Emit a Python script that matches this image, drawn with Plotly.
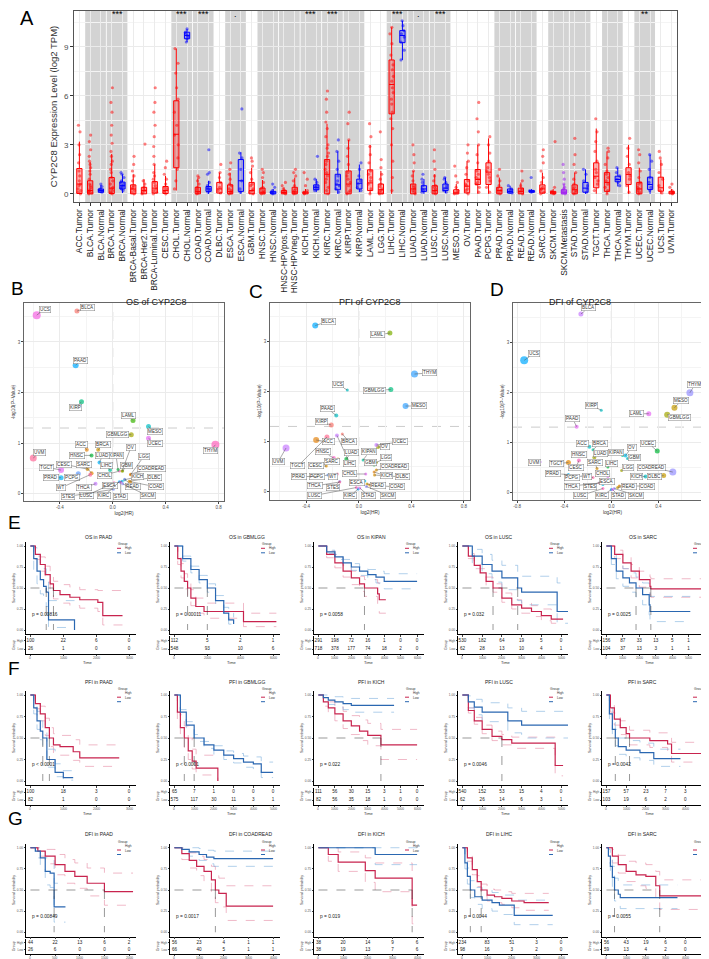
import plotly.graph_objects as go

W, H = 709, 959
FONT = "Liberation Sans, Arial, sans-serif"

# ---------------- panel A: CYP2C8 expression across TCGA ----------------
cats = ["ACC.Tumor", "BLCA.Tumor", "BLCA.Normal", "BRCA.Tumor", "BRCA.Normal",
        "BRCA-Basal.Tumor", "BRCA-Her2.Tumor", "BRCA-Luminal.Tumor", "CESC.Tumor",
        "CHOL.Tumor", "CHOL.Normal", "COAD.Tumor", "COAD.Normal", "DLBC.Tumor",
        "ESCA.Tumor", "ESCA.Normal", "GBM.Tumor", "HNSC.Tumor", "HNSC.Normal",
        "HNSC-HPVpos.Tumor", "HNSC-HPVneg.Tumor", "KICH.Tumor", "KICH.Normal",
        "KIRC.Tumor", "KIRC.Normal", "KIRP.Tumor", "KIRP.Normal", "LAML.Tumor",
        "LGG.Tumor", "LIHC.Tumor", "LIHC.Normal", "LUAD.Tumor", "LUAD.Normal",
        "LUSC.Tumor", "LUSC.Normal", "MESO.Tumor", "OV.Tumor", "PAAD.Tumor",
        "PCPG.Tumor", "PRAD.Tumor", "PRAD.Normal", "READ.Tumor", "READ.Normal",
        "SARC.Tumor", "SKCM.Tumor", "SKCM.Metastasis", "STAD.Tumor", "STAD.Normal",
        "TGCT.Tumor", "THCA.Tumor", "THCA.Normal", "THYM.Tumor", "UCEC.Tumor",
        "UCEC.Normal", "UCS.Tumor", "UVM.Tumor"]
box_q1 = [0.02, 0.0, 0.1, 0.02, 0.3, 0.0, 0.0, 0.05, 0.02, 1.6, 9.5, 0.0, 0.15, 0.05,
          0.0, 0.15, 0.0, 0.0, 0.0, 0.0, 0.0, 0.0, 0.25, 0.0, 0.25, 0.0, 0.3, 0.2,
          0.0, 4.9, 9.26, 0.0, 0.15, 0.0, 0.2, 0.0, 0.06, 0.57, 0.57, 0.0, 0.05, 0.0,
          0.1, 0.05, 0.0, 0.0, 0.0, 0.1, 0.37, 0.15, 0.74, 0.57, 0.0, 0.27, 0.16, 0.0]
box_med = [0.6, 0.2, 0.2, 0.35, 0.5, 0.3, 0.2, 0.35, 0.2, 3.65, 9.7, 0.15, 0.3, 0.3,
           0.15, 0.8, 0.2, 0.1, 0.05, 0.08, 0.12, 0.05, 0.4, 1.2, 0.55, 0.6, 0.65, 0.67,
           0.25, 6.7, 9.7, 0.3, 0.3, 0.2, 0.35, 0.1, 0.47, 0.88, 1.33, 0.2, 0.15, 0.15,
           0.15, 0.3, 0.05, 0.1, 0.25, 0.35, 1.08, 0.7, 0.88, 1.19, 0.3, 0.57, 0.37, 0.05]
box_q3 = [1.55, 0.8, 0.3, 1.0, 0.72, 0.55, 0.4, 0.75, 0.45, 5.7, 9.9, 0.4, 0.45, 0.7,
          0.55, 2.1, 0.7, 0.35, 0.15, 0.2, 0.4, 0.12, 0.55, 2.1, 1.2, 1.4, 0.9, 1.47,
          0.6, 8.2, 10.0, 0.6, 0.5, 0.5, 0.6, 0.25, 0.88, 1.49, 1.9, 0.4, 0.3, 0.35,
          0.2, 0.55, 0.15, 0.25, 0.55, 0.7, 1.9, 1.3, 1.08, 1.6, 0.7, 1.02, 1.02, 0.15]
box_lo = [0, 0, 0.05, 0, 0.05, 0, 0, 0, 0, 0.2, 9.3, 0, 0, 0, 0, 0, 0, 0, 0, 0, 0, 0,
          0.1, 0, 0, 0, 0.1, 0, 0, 0, 8.2, 0, 0, 0, 0.05, 0, 0, 0, 0, 0, 0, 0, 0.05, 0,
          0, 0, 0, 0, 0, 0, 0.45, 0, 0, 0, 0, 0]
box_hi = [3.2, 1.95, 0.55, 2.45, 1.2, 1.2, 0.9, 1.8, 1.1, 8.9, 10.1, 0.95, 0.8, 1.3,
          1.3, 2.55, 1.6, 0.85, 0.3, 0.4, 1.0, 0.3, 0.9, 4.3, 2.6, 3.3, 1.8, 3.0, 1.4,
          10.2, 10.6, 1.4, 0.9, 1.2, 1.0, 0.6, 2.0, 3.0, 3.4, 1.0, 0.5, 0.7, 0.3, 1.3,
          0.3, 0.6, 1.3, 1.5, 4.0, 2.6, 1.6, 3.0, 1.6, 2.4, 2.1, 0.3]
box_pts = [
    [0.0, 0.1, 0.2, 0.3, 0.5, 0.6, 0.8, 1.1, 1.4, 1.9, 2.4, 3.0, 3.8, 4.2],
    [0.0, 0.05, 0.1, 0.15, 0.2, 0.3, 0.4, 0.5, 0.6, 0.9, 1.2, 1.4, 1.6, 1.8, 2.0, 2.3, 2.7, 3.2, 3.6],
    [0.1, 0.15, 0.2, 0.25, 0.3, 0.45, 0.6],
    [0.0, 0.05, 0.1, 0.2, 0.3, 0.4, 0.6, 0.8, 1.0, 1.3, 1.5, 1.8, 2.0, 2.3, 2.6, 3.1, 3.6, 4.2, 5.0, 5.6, 6.5],
    [0.2, 0.3, 0.35, 0.45, 0.5, 0.6, 0.7, 0.8, 1.0, 1.2, 1.3],
    [0.0, 0.1, 0.2, 0.3, 0.4, 0.5, 0.8, 1.1, 1.4, 1.8, 2.3],
    [0.0, 0.1, 0.2, 0.3, 0.4, 0.6, 0.8, 3.05],
    [0.0, 0.1, 0.2, 0.3, 0.5, 0.7, 0.9, 1.1, 1.3, 1.8, 2.3, 2.9, 3.5, 4.2, 5.0, 5.6, 6.5],
    [0.0, 0.1, 0.2, 0.3, 0.4, 0.6, 0.9, 1.2, 1.6, 2.0],
    [0.3, 0.8, 1.5, 2.2, 3.0, 3.6, 4.2, 5.0, 5.8, 6.5, 7.4, 8.0, 8.9],
    [9.3, 9.5, 9.6, 9.7, 9.8, 9.9, 10.1],
    [0.0, 0.05, 0.1, 0.2, 0.3, 0.4, 0.6, 0.8, 1.0, 1.1],
    [0.1, 0.2, 0.3, 0.4, 0.5, 0.7, 1.2, 1.3, 2.7],
    [0.05, 0.2, 0.4, 0.7, 1.0, 1.3, 1.8],
    [0.0, 0.05, 0.1, 0.2, 0.3, 0.5, 0.6, 0.9, 1.2, 1.5, 1.9],
    [0.1, 0.3, 0.8, 1.5, 2.2, 2.5, 5.2],
    [0.0, 0.1, 0.2, 0.3, 0.5, 0.6, 0.9, 1.3, 1.7, 2.0, 2.2],
    [0.0, 0.05, 0.1, 0.2, 0.3, 0.4, 0.7, 1.0, 1.3, 1.5],
    [0.0, 0.05, 0.1, 0.2, 0.4, 0.6],
    [0.0, 0.05, 0.1, 0.2, 0.3, 0.5, 0.7],
    [0.0, 0.05, 0.1, 0.2, 0.3, 0.5, 0.8, 1.1, 1.3, 1.5],
    [0.0, 0.05, 0.1, 0.2, 0.5, 0.9, 1.3],
    [0.2, 0.3, 0.4, 0.5, 0.7, 0.9, 2.3],
    [0.0, 0.2, 0.4, 0.7, 0.9, 1.1, 1.3, 1.5, 1.8, 2.0, 2.3, 2.5, 2.8, 3.0, 3.5, 4.0, 4.4, 5.0, 5.8, 6.3],
    [0.1, 0.3, 0.5, 0.6, 0.8, 1.1, 1.5, 2.0, 2.6, 3.3],
    [0.0, 0.1, 0.2, 0.5, 0.7, 0.9, 1.1, 1.3, 1.8, 2.3, 2.8, 3.3, 4.3, 5.0],
    [0.2, 0.4, 0.6, 0.8, 1.1, 1.5, 1.9],
    [0.0, 0.3, 0.6, 0.8, 1.0, 1.2, 1.4, 1.9, 2.4, 2.9, 3.5, 4.3],
    [0.0, 0.05, 0.1, 0.2, 0.3, 0.45, 0.6, 0.9, 1.2, 1.6, 2.1, 3.8],
    [0.2, 1.0, 2.0, 3.0, 4.0, 4.6, 5.0, 5.5, 5.8, 6.2, 6.5, 6.9, 7.2, 7.6, 7.9, 8.5, 9.2, 9.8, 10.2],
    [8.2, 8.8, 9.3, 9.6, 9.8, 10.0, 10.3, 10.6],
    [0.0, 0.1, 0.2, 0.3, 0.4, 0.5, 0.8, 1.1, 1.4, 1.9, 2.4, 3.0],
    [0.1, 0.2, 0.3, 0.5, 0.7, 0.9, 1.2],
    [0.0, 0.1, 0.2, 0.3, 0.4, 0.5, 0.8, 1.1, 1.5, 2.0, 2.7],
    [0.1, 0.2, 0.35, 0.5, 0.7, 0.9, 1.0],
    [0.0, 0.05, 0.2, 0.4, 0.7, 1.1, 1.7],
    [0.0, 0.2, 0.3, 0.5, 0.6, 0.8, 1.2, 1.6, 2.0, 2.5, 3.0],
    [0.1, 0.4, 0.6, 0.7, 0.9, 1.0, 1.2, 1.4, 1.9, 2.4, 3.0, 3.8, 4.6, 5.6],
    [0.1, 0.4, 0.8, 1.0, 1.2, 1.4, 1.6, 2.0, 2.5, 3.0, 3.5],
    [0.0, 0.1, 0.2, 0.3, 0.5, 0.8, 1.1, 1.5],
    [0.05, 0.1, 0.2, 0.3, 0.5],
    [0.0, 0.1, 0.2, 0.3, 0.5, 0.8, 1.4],
    [0.1, 0.15, 0.2, 1.0],
    [0.0, 0.1, 0.2, 0.3, 0.4, 0.7, 1.0, 1.4, 1.9, 2.3, 2.7],
    [0.0, 0.05, 0.1, 0.15, 0.4, 3.2],
    [0.0, 0.05, 0.1, 0.2, 0.3, 0.4, 0.6, 0.9, 1.3, 1.8],
    [0.0, 0.1, 0.2, 0.3, 0.4, 0.6, 0.9, 1.3, 1.8, 2.4, 3.4],
    [0.1, 0.3, 0.5, 0.8, 1.2, 1.5],
    [0.2, 0.6, 0.8, 1.0, 1.3, 1.5, 2.0, 2.6, 3.2, 3.8, 4.6],
    [0.0, 0.2, 0.4, 0.6, 0.8, 1.0, 1.2, 1.4, 1.8, 2.2, 2.6, 2.8],
    [0.5, 0.7, 0.9, 1.1, 1.3, 1.6],
    [0.1, 0.5, 0.9, 1.1, 1.3, 1.8, 2.3, 2.8, 3.4],
    [0.0, 0.1, 0.2, 0.3, 0.4, 0.6, 0.7, 1.0, 1.4, 1.9, 2.4, 2.7],
    [0.2, 0.4, 0.7, 1.0, 1.5, 2.0, 2.4],
    [0.05, 0.2, 0.5, 0.9, 1.3, 1.8, 2.2, 2.6],
    [0.0, 0.05, 0.1, 0.2, 0.4, 0.6],
]
pair_start = [1, 3, 9, 11, 14, 17, 19, 21, 23, 25, 29, 31, 33, 39, 41, 44, 46, 49, 52]
sig_start = [3, 9, 11, 14, 21, 23, 29, 31, 33, 52]
sig_text = ["***", "***", "***", ".", "***", "***", "***", ".", "***", "**"]

# ---------------- panels B-D: Cox results per cancer ----------------
vol_names = ["ACC", "BLCA", "BRCA", "CESC", "CHOL", "COAD", "COADREAD", "DLBC", "ESCA",
             "GBM", "GBMLGG", "HNSC", "KICH", "KIPAN", "KIRC", "KIRP", "LAML", "LGG",
             "LIHC", "LUAD", "LUSC", "MESO", "OV", "PAAD", "PCPG", "PRAD", "READ",
             "SARC", "SKCM", "STAD", "STES", "TGCT", "THCA", "THYM", "UCEC", "UCS",
             "UVM", "WT"]
os_hr = [-0.196, -0.27, -0.11, -0.19, 0.05, 0.135, 0.135, 0.125, 0.07, 0.075, 0.14,
         -0.16, 0.09, 0.04, 0.05, -0.236, 0.153, 0.135, -0.02, -0.1, 0.01, 0.27, 0.07,
         -0.28, -0.26, -0.39, 0.09, -0.16, 0.075, 0.06, 0.005, -0.39, -0.13, 0.775,
         0.27, -0.574, -0.60, -0.17]
os_p = [0.87, 3.61, 0.87, 0.49, 0.45, 0.24, 0.39, 0.25, 0.25, 0.45, 1.17, 0.76, 0.28,
        0.48, 0.24, 1.82, 1.45, 0.38, 0.47, 0.62, 0.22, 1.33, 0.45, 2.54, 0.40, 0.32,
        0.29, 0.41, 0.2, 0.23, 0.09, 0.47, 0.2, 0.97, 1.10, 3.53, 0.71, 0.38]
os_col = ["#E68613", "#F8766D", "#CD9600", "#D89000", "#FF61C9", "#E58700", "#E68613",
          "#D89000", "#00B8E7", "#7CAE00", "#A3A500", "#00BA38", "#00C08B", "#00BA38",
          "#00A5FF", "#00BF7D", "#39B600", "#E68613", "#00C19A", "#00B0F6", "#FF62BC",
          "#00BFC4", "#9DA700", "#00A9FF", "#619CFF", "#00B0F6", "#9590FF", "#E58700",
          "#9590FF", "#E76BF3", "#8494FF", "#E76BF3", "#C77CFF", "#FF62BC", "#E76BF3",
          "#F564E3", "#FF6A98", "#FF67A4"]
os_size = [4, 5, 4, 4, 3, 3, 3, 3, 3, 3, 5, 4, 3, 3, 3, 5, 5, 3, 4, 4, 3, 5, 3, 6, 5,
           5, 3, 4, 3, 3, 3, 6, 4, 8, 5, 8, 7, 4]
pfi_hr = [-0.324, -0.331, -0.125, -0.247, 0.053, 0.084, 0.134, 0.12, 0.046, 0.117,
          0.244, -0.19, 0.117, 0.033, -0.005, -0.209, 0.237, 0.134, -0.166, -0.095,
          -0.018, 0.356, 0.147, -0.171, -0.234, -0.31, 0.063, -0.158, 0.058, 0.008,
          -0.145, -0.242, -0.145, 0.424, 0.134, -0.087, -0.553, -0.163]
pfi_p = [1.03, 3.32, 1.15, 0.51, 0.35, 0.13, 0.43, 0.33, 0.21, 0.53, 2.04, 0.67, 0.39,
         0.63, 0.05, 1.33, 3.17, 0.58, 1.12, 0.65, 0.08, 1.71, 0.89, 1.52, 0.33, 0.3,
         0.15, 0.65, 0.10, 0.07, 0.2, 1.09, 0.19, 2.35, 0.93, 2.03, 0.87, 0.35]
pfi_col = ["#E68613", "#00A9FF", "#F8766D", "#D89000", "#E76BF3", "#E58700", "#D89000",
           "#D89000", "#00B8E7", "#00BA38", "#00BF7D", "#FF61C9", "#E68613", "#00C19A",
           "#00A5FF", "#F8766D", "#7CAE00", "#A3A500", "#C77CFF", "#00BA38", "#FF62BC",
           "#35A2FF", "#A3A500", "#00BFC4", "#619CFF", "#00B0F6", "#C99800", "#E58700",
           "#9590FF", "#E76BF3", "#8494FF", "#FF6C91", "#FF6A98", "#35A2FF", "#C77CFF",
           "#00BFC4", "#C77CFF", "#FF67A4"]
pfi_size = [6, 6, 3, 3, 3, 3, 3, 3, 3, 3, 5, 4, 3, 3, 3, 5, 5, 3, 4, 4, 3, 6, 4, 4, 3,
            3, 3, 3, 3, 3, 3, 5, 3, 7, 4, 3, 7, 3]
dfi_hr = [-0.187, -0.259, -0.156, -0.276, -0.03, 0.067, 0.522, 0.444, -0.072, 0.137,
          0.474, -0.245, 0.29, 0.095, 0.0, -0.086, 0.318, 0.087, -0.03, -0.145, -0.072,
          0.536, 0.12, -0.295, -0.24, -0.365, 0.053, -0.122, 0.025, 0.01, -0.095,
          -0.365, -0.1, 0.667, 0.39, -0.741, -0.60, -0.156]
dfi_p = [0.91, 3.57, 0.85, 0.63, 0.31, 0.12, 0.40, 0.33, 0.15, 0.67, 1.55, 0.72, 0.31,
         0.73, 0.05, 1.64, 1.57, 0.43, 0.5, 0.69, 0.07, 1.69, 0.73, 1.31, 0.32, 0.35,
         0.09, 0.47, 0.07, 0.05, 0.2, 0.59, 0.18, 1.99, 0.82, 2.64, 0.60, 0.29]
dfi_col = ["#00BFC4", "#C77CFF", "#00C19A", "#FF62BC", "#E76BF3", "#E58700", "#9590FF",
           "#C49A00", "#00B8E7", "#00BFC4", "#A3A500", "#FF61C9", "#00BFC4", "#00C08B",
           "#00A5FF", "#00BFC4", "#E76BF3", "#A3A500", "#00BA38", "#A3A500", "#FF62BC",
           "#C49A00", "#00B8E7", "#E76BF3", "#619CFF", "#00B0F6", "#C99800", "#D89000",
           "#9590FF", "#E76BF3", "#8494FF", "#E58700", "#FF6A98", "#9590FF", "#00BA38",
           "#00A9FF", "#C77CFF", "#FF67A4"]
dfi_size = [4, 5, 3, 4, 3, 3, 7, 5, 3, 3, 6, 3, 4, 3, 3, 3, 5, 3, 3, 4, 3, 6, 4, 4, 3,
            3, 3, 3, 3, 3, 3, 5, 3, 7, 5, 8, 2, 3]

# label placement (pixel offset of each repel label from its point)
os_lab = [(-5, -5), (11, -4), (5, -5), (-24, -5), (-15, 4), (25, 5), (21, -6), (25, -4),
          (-12, 4), (4, -6), (-14, 0), (-15, 0), (13, -3), (-2, -14), (-15, 14), (-6, 6),
          (-5, -5), (13, -18), (-4, -5), (3, -7), (-28, 13), (6, 5), (9, -24), (5, -5),
          (-6, 4), (-10, 0), (8, 7), (-8, -9), (25, 12), (0, 14), (-45, 7), (-15, -3),
          (-12, 4), (-5, 6), (6, 5), (8, -6), (6, -5), (-29, 13)]
pfi_lab = [(12, 2), (13, -4), (7, 8), (-10, 0), (-16, 0), (27, 2), (18, -3), (28, 2),
           (-8, 2), (-4, -2), (-16, 1), (-11, -6), (12, 4), (6, -8), (-8, 7), (-10, -3),
           (-12, 2), (10, -5), (13, 28), (5, -6), (-42, 8), (13, 0), (7, 0), (-9, -7),
           (-11, 2), (-19, 0), (11, 2), (-6, 3), (22, 9), (9, 8), (-7, 6), (-29, 29),
           (-25, 4), (15, -1), (24, -3), (-9, -5), (-8, 14), (-4, 3)]
dfi_lab = [(-7, -3), (8, -6), (7, -6), (-3, 7), (-5, -3), (28, 0), (-21, -5), (-9, 1),
           (4, -3), (7, -1), (12, 3), (-4, -2), (-9, 0), (-7, -3), (-9, 6), (-10, -5),
           (-12, 0), (6, -3), (4, -4), (6, -4), (-22, 7), (7, -7), (6, -8), (-4, -8),
           (-11, 1), (-15, -1), (11, -1), (-2, -6), (22, 7), (6, 6), (-10, 4), (-12, 1),
           (-28, 3), (5, -8), (-9, -8), (10, -7), (-6, 0), (-6, -1)]

# ---------------- panels E-G: Kaplan-Meier curves ----------------
km_titles = ["OS in PAAD", "OS in GBMLGG", "OS in KIPAN", "OS in LUSC", "OS in SARC",
             "PFI in PAAD", "PFI in GBMLGG", "PFI in KICH", "PFI in LUSC", "PFI in SARC",
             "DFI in PAAD", "DFI in COADREAD", "DFI in KICH", "DFI in LIHC", "DFI in SARC"]
km_pvals = ["p = 0.00816", "p = 0.00011", "p = 0.0058", "p = 0.032", "p = 0.0025",
            "p < 0.0001", "p < 0.0001", "p = 0.022", "p = 0.0046", "p = 0.0042",
            "p = 0.00849", "p = 0.0017", "p = 0.019", "p = 0.0044", "p = 0.0055"]
km_step = [1000, 2000, 1000, 1000, 1000, 1000, 1000, 1000, 1000, 1000,
           500, 1000, 1000, 1000, 1000]
risk_high = [[100, 22, 6, 0], [112, 5, 2, 1], [291, 198, 72, 16, 1, 0, 0],
             [530, 182, 64, 19, 5, 0], [156, 87, 33, 13, 5, 1, 0],
             [100, 18, 3, 0], [65, 7, 1, 0, 0, 0], [111, 56, 30, 15, 3, 1, 0],
             [540, 152, 53, 15, 4, 0], [157, 57, 23, 7, 3, 0],
             [44, 22, 13, 6, 2], [56, 23, 4, 1, 1], [38, 20, 14, 9, 6],
             [234, 83, 51, 3, 0], [56, 43, 19, 6, 0, 0]]
risk_low = [[26, 1, 0, 0], [548, 93, 10, 6], [718, 378, 177, 74, 18, 2, 0],
            [62, 28, 13, 10, 4, 1], [104, 37, 13, 3, 1, 1, 0],
            [82, 1, 0, 0], [575, 117, 30, 11, 3, 1], [82, 56, 35, 18, 1, 0, 0],
            [62, 26, 14, 6, 3, 1], [103, 19, 6, 2, 0, 0],
            [26, 6, 0, 0, 0], [66, 40, 5, 1, 1], [38, 19, 13, 7, 6],
            [98, 16, 3, 2, 0], [59, 13, 4, 2, 0, 0]]

high_t = [[0, 150, 300, 450, 600, 700, 900, 1200, 1500, 2050, 2200, 2800],
          [0, 200, 400, 600, 800, 1000, 1300, 1800, 4200, 6200],
          [0, 500, 1000, 1500, 2000, 2500, 2800, 3600, 3700, 4100],
          [0, 300, 600, 900, 1200, 1550, 2000, 2500, 3000, 3500, 4000, 4500, 5100],
          [0, 500, 1000, 1500, 2000, 2650, 2700, 5800],
          [0, 150, 300, 450, 576, 700, 900, 1300, 1500, 2700],
          [0, 150, 300, 500, 700, 900, 1100, 2200, 2200],
          [0, 300, 600, 1000, 1500, 2000, 2500, 3000, 3800, 6000],
          [0, 300, 600, 1000, 1500, 2000, 2500, 4700, 5100],
          [0, 200, 400, 700, 1000, 1170, 2200, 3100, 3300, 4850],
          [0, 150, 300, 500, 700, 900, 1150, 1500, 2080],
          [0, 300, 600, 900, 1200, 1500, 1660, 1800, 2100, 4000],
          [0, 400, 800, 1900, 2300, 3800, 4000],
          [0, 200, 400, 600, 760, 1000, 1300, 1600, 2000, 2500, 3500],
          [0, 300, 600, 1000, 1500, 2000, 2500, 2700, 5100]]
high_s = [[1, 0.9, 0.78, 0.66, 0.55, 0.47, 0.42, 0.39, 0.36, 0.33, 0.17, 0.17],
          [1, 0.85, 0.7, 0.58, 0.5, 0.38, 0.28, 0.22, 0.1, 0.1],
          [1, 0.9, 0.8, 0.7, 0.62, 0.55, 0.5, 0.43, 0.36, 0.36],
          [1, 0.88, 0.77, 0.68, 0.58, 0.5, 0.38, 0.3, 0.26, 0.22, 0.17, 0.13, 0.13],
          [1, 0.9, 0.8, 0.7, 0.6, 0.52, 0.49, 0.49],
          [1, 0.9, 0.78, 0.62, 0.5, 0.42, 0.4, 0.34, 0.27, 0.27],
          [1, 0.8, 0.62, 0.5, 0.35, 0.23, 0.15, 0.15, 0.0],
          [1, 0.92, 0.85, 0.78, 0.7, 0.64, 0.58, 0.53, 0.42, 0.42],
          [1, 0.82, 0.7, 0.6, 0.52, 0.48, 0.44, 0.18, 0.18],
          [1, 0.85, 0.72, 0.62, 0.55, 0.5, 0.47, 0.43, 0.32, 0.32],
          [1, 0.96, 0.9, 0.8, 0.72, 0.66, 0.58, 0.48, 0.48],
          [1, 0.93, 0.85, 0.78, 0.72, 0.62, 0.5, 0.46, 0.31, 0.31],
          [1, 0.92, 0.83, 0.73, 0.64, 0.32, 0.32],
          [1, 0.88, 0.74, 0.6, 0.5, 0.44, 0.42, 0.4, 0.37, 0.35, 0.35],
          [1, 0.9, 0.8, 0.72, 0.68, 0.66, 0.55, 0.43, 0.43]]
high_lo = [[1, 0.84, 0.7, 0.57, 0.45, 0.37, 0.32, 0.29, 0.26, 0.22, 0.06, 0.06],
           [1, 0.78, 0.62, 0.49, 0.41, 0.29, 0.2, 0.14, 0.04, 0.04],
           [1, 0.86, 0.74, 0.63, 0.54, 0.46, 0.4, 0.31, 0.2, 0.2],
           [1, 0.85, 0.73, 0.63, 0.53, 0.45, 0.33, 0.25, 0.2, 0.16, 0.11, 0.08, 0.08],
           [1, 0.85, 0.73, 0.62, 0.51, 0.42, 0.39, 0.39],
           [1, 0.84, 0.7, 0.53, 0.4, 0.32, 0.3, 0.24, 0.17, 0.17],
           [1, 0.7, 0.51, 0.39, 0.25, 0.14, 0.07, 0.07, 0.0],
           [1, 0.87, 0.78, 0.7, 0.61, 0.54, 0.47, 0.41, 0.25, 0.25],
           [1, 0.79, 0.66, 0.55, 0.47, 0.42, 0.38, 0.06, 0.06],
           [1, 0.8, 0.65, 0.54, 0.47, 0.42, 0.39, 0.34, 0.22, 0.22],
           [1, 0.9, 0.81, 0.68, 0.58, 0.52, 0.43, 0.32, 0.32],
           [1, 0.86, 0.76, 0.67, 0.6, 0.48, 0.35, 0.3, 0.14, 0.14],
           [1, 0.84, 0.72, 0.59, 0.48, 0.1, 0.1],
           [1, 0.84, 0.68, 0.54, 0.43, 0.37, 0.35, 0.33, 0.29, 0.26, 0.26],
           [1, 0.82, 0.7, 0.6, 0.55, 0.52, 0.4, 0.27, 0.27]]
high_hi = [[1, 0.96, 0.87, 0.76, 0.66, 0.58, 0.54, 0.51, 0.48, 0.47, 0.47, 0.47],
           [1, 0.91, 0.79, 0.67, 0.6, 0.48, 0.38, 0.32, 0.2, 0.2],
           [1, 0.94, 0.86, 0.77, 0.7, 0.64, 0.6, 0.56, 0.52, 0.52],
           [1, 0.91, 0.81, 0.73, 0.63, 0.55, 0.44, 0.36, 0.32, 0.29, 0.25, 0.22, 0.22],
           [1, 0.95, 0.87, 0.78, 0.7, 0.63, 0.61, 0.61],
           [1, 0.96, 0.87, 0.73, 0.62, 0.55, 0.53, 0.48, 0.42, 0.42],
           [1, 0.9, 0.75, 0.64, 0.5, 0.37, 0.3, 0.3, 0.3],
           [1, 0.97, 0.92, 0.87, 0.81, 0.76, 0.71, 0.67, 0.6, 0.6],
           [1, 0.85, 0.74, 0.65, 0.58, 0.54, 0.51, 0.5, 0.5],
           [1, 0.9, 0.79, 0.7, 0.64, 0.59, 0.56, 0.53, 0.45, 0.45],
           [1, 1, 0.98, 0.92, 0.86, 0.82, 0.76, 0.7, 0.7],
           [1, 0.99, 0.94, 0.9, 0.86, 0.78, 0.67, 0.64, 0.55, 0.55],
           [1, 1, 0.95, 0.88, 0.82, 0.68, 0.68],
           [1, 0.92, 0.8, 0.67, 0.57, 0.51, 0.5, 0.48, 0.46, 0.46, 0.46],
           [1, 0.98, 0.91, 0.84, 0.82, 0.8, 0.72, 0.62, 0.62]]
low_t = [[0, 100, 200, 300, 400, 480, 550, 1340, 1340],
         [0, 500, 1000, 1500, 2000, 2500, 3000, 3300, 3600],
         [0, 500, 1000, 1500, 2000, 2500, 3000, 3500, 4000, 6000],
         [0, 500, 1000, 1500, 2000, 2800, 3000, 4800, 5500],
         [0, 300, 600, 1000, 1400, 1800, 2200, 2600, 2650, 5100],
         [0, 100, 200, 300, 375, 500, 750, 1000, 1300],
         [0, 300, 600, 1000, 1500, 2000, 2500, 3000, 3500, 4000, 4400, 5000],
         [0, 300, 600, 1000, 1500, 2000, 4600],
         [0, 300, 600, 1000, 2300, 3000, 5500],
         [0, 150, 300, 450, 600, 1000, 1700, 2400, 3750],
         [0, 100, 200, 300, 400, 480, 710],
         [0, 300, 600, 1000, 1300, 1600, 4000],
         [0, 2300, 4000],
         [0, 100, 200, 320, 500, 800, 1200, 1500, 2100, 3660],
         [0, 100, 200, 300, 410, 600, 700, 3600]]
low_s = [[1, 0.85, 0.7, 0.6, 0.52, 0.45, 0.12, 0.12, 0.0],
         [1, 0.85, 0.72, 0.6, 0.5, 0.35, 0.2, 0.12, 0.07],
         [1, 0.93, 0.87, 0.8, 0.75, 0.7, 0.66, 0.63, 0.58, 0.58],
         [1, 0.88, 0.78, 0.7, 0.62, 0.5, 0.45, 0.22, 0.22],
         [1, 0.85, 0.7, 0.62, 0.56, 0.5, 0.42, 0.3, 0.22, 0.22],
         [1, 0.85, 0.7, 0.58, 0.5, 0.25, 0.1, 0.04, 0.04],
         [1, 0.8, 0.65, 0.5, 0.42, 0.36, 0.3, 0.26, 0.22, 0.2, 0.1, 0.1],
         [1, 0.97, 0.94, 0.92, 0.9, 0.88, 0.88],
         [1, 0.92, 0.86, 0.8, 0.7, 0.65, 0.65],
         [1, 0.78, 0.6, 0.5, 0.4, 0.36, 0.33, 0.26, 0.26],
         [1, 0.96, 0.88, 0.72, 0.7, 0.3, 0.3],
         [1, 0.98, 0.95, 0.92, 0.89, 0.87, 0.87],
         [1, 0.92, 0.92],
         [1, 0.82, 0.66, 0.5, 0.42, 0.38, 0.35, 0.32, 0.2, 0.2],
         [1, 0.9, 0.78, 0.65, 0.5, 0.45, 0.41, 0.41]]
low_lo = [[1, 0.72, 0.55, 0.43, 0.35, 0.28, 0.03, 0.03, 0.0],
          [1, 0.82, 0.68, 0.56, 0.45, 0.3, 0.15, 0.07, 0.03],
          [1, 0.91, 0.84, 0.76, 0.71, 0.65, 0.6, 0.56, 0.49, 0.49],
          [1, 0.8, 0.67, 0.57, 0.48, 0.35, 0.3, 0.08, 0.08],
          [1, 0.78, 0.61, 0.52, 0.45, 0.39, 0.3, 0.18, 0.1, 0.1],
          [1, 0.78, 0.6, 0.48, 0.4, 0.16, 0.05, 0.01, 0.01],
          [1, 0.77, 0.61, 0.46, 0.38, 0.31, 0.25, 0.21, 0.16, 0.13, 0.04, 0.04],
          [1, 0.93, 0.89, 0.86, 0.83, 0.8, 0.8],
          [1, 0.85, 0.77, 0.69, 0.56, 0.5, 0.5],
          [1, 0.7, 0.51, 0.41, 0.31, 0.27, 0.24, 0.17, 0.17],
          [1, 0.88, 0.76, 0.56, 0.53, 0.12, 0.12],
          [1, 0.95, 0.9, 0.85, 0.81, 0.78, 0.78],
          [1, 0.8, 0.8],
          [1, 0.75, 0.57, 0.41, 0.33, 0.28, 0.25, 0.21, 0.09, 0.09],
          [1, 0.82, 0.67, 0.53, 0.37, 0.32, 0.28, 0.28]]
low_hi = [[1, 0.98, 0.88, 0.8, 0.73, 0.66, 0.35, 0.35, 0.35],
          [1, 0.88, 0.76, 0.65, 0.55, 0.41, 0.27, 0.2, 0.15],
          [1, 0.95, 0.9, 0.84, 0.79, 0.75, 0.72, 0.7, 0.67, 0.67],
          [1, 0.96, 0.9, 0.83, 0.77, 0.68, 0.64, 0.56, 0.56],
          [1, 0.92, 0.8, 0.73, 0.68, 0.63, 0.56, 0.46, 0.4, 0.4],
          [1, 0.93, 0.81, 0.7, 0.62, 0.37, 0.2, 0.12, 0.12],
          [1, 0.83, 0.69, 0.54, 0.46, 0.41, 0.35, 0.32, 0.29, 0.28, 0.22, 0.22],
          [1, 1, 0.99, 0.98, 0.97, 0.96, 0.96],
          [1, 0.99, 0.95, 0.91, 0.85, 0.81, 0.81],
          [1, 0.86, 0.7, 0.6, 0.5, 0.47, 0.44, 0.37, 0.37],
          [1, 1, 0.99, 0.88, 0.86, 0.58, 0.58],
          [1, 1, 1, 0.99, 0.97, 0.96, 0.96],
          [1, 1, 1],
          [1, 0.89, 0.76, 0.61, 0.53, 0.5, 0.47, 0.44, 0.38, 0.38],
          [1, 0.98, 0.9, 0.78, 0.64, 0.6, 0.56, 0.56]]

HIGH_COL, HIGH_CI = "#C8234E", "#E58AA2"
LOW_COL, LOW_CI = "#2A67B1", "#7DB0DD"


def fx(p):
    return p / W


def fy(p):
    return 1 - p / H


fig = go.Figure()
lay = {}
ann = []
shp = []
n_axes = [0]


def add_axes(xpx, ypx, xa, ya):
    n_axes[0] += 1
    s = "" if n_axes[0] == 1 else str(n_axes[0])
    lay["xaxis" + s] = dict(domain=[fx(xpx[0]), fx(xpx[1])], anchor="y" + s, **xa)
    lay["yaxis" + s] = dict(domain=[fy(ypx[1]), fy(ypx[0])], anchor="x" + s, **ya)
    return "x" + s, "y" + s


def panel_letter(t, x, y, size=19):
    ann.append(dict(text=t, x=fx(x), y=fy(y), xref="paper", yref="paper",
                    showarrow=False, font=dict(size=size, color="black"),
                    xanchor="center", yanchor="middle"))


# ---------- A ----------
A_YR = [-0.5, 11.2]
xa, ya = add_axes(
    (66, 669), (3, 194),
    dict(type="category", categoryorder="array", categoryarray=cats,
         range=[-0.5, len(cats) - 0.5], tickangle=-90,
         tickfont=dict(size=8.4, color="#1a1a1a"), ticks="outside", ticklen=3,
         tickcolor="#333", showgrid=True, gridcolor="#EBEBEB", showline=True,
         mirror=True, linecolor="#555", linewidth=0.8, zeroline=False),
    dict(range=A_YR, tickvals=[0, 3, 6, 9], tickfont=dict(size=8, color="#4D4D4D"),
         ticks="outside", ticklen=3, tickcolor="#333", showgrid=True, gridcolor="#EBEBEB",
         minor=dict(tickvals=[1.5, 4.5, 7.5, 10.5], showgrid=True, gridcolor="#F4F4F4"),
         showline=True, mirror=True, linecolor="#555", linewidth=0.8, zeroline=False,
         title=dict(text="CYP2C8 Expression Level (log2 TPM)", font=dict(size=9.5),
                    standoff=4)))


def kind(c):
    if c.endswith("Normal"):
        return "#0000FF", "rgba(0,0,255,0.25)"
    if c.endswith("Metastasis"):
        return "#A020F0", "rgba(160,32,240,0.45)"
    return "#FF0000", "rgba(255,0,0,0.3)"


for col in ["#FF0000", "#0000FF", "#A020F0"]:
    idx = [i for i, c in enumerate(cats) if kind(c)[0] == col]
    fill = kind(cats[idx[0]])[1]
    fig.add_trace(go.Box(
        x=[cats[i] for i in idx], q1=[box_q1[i] for i in idx],
        median=[box_med[i] for i in idx], q3=[box_q3[i] for i in idx],
        lowerfence=[box_lo[i] for i in idx], upperfence=[box_hi[i] for i in idx],
        boxpoints=False, whiskerwidth=0, fillcolor=fill,
        line=dict(color=col, width=1), xaxis=xa, yaxis=ya))
    fig.add_trace(go.Box(
        x=[cats[i] for i in idx for _ in box_pts[i]],
        y=[v for i in idx for v in box_pts[i]],
        boxpoints="all", jitter=0.8, pointpos=0, whiskerwidth=0,
        fillcolor="rgba(0,0,0,0)", line=dict(color="rgba(0,0,0,0)", width=0),
        marker=dict(color=col, size=3.2, opacity=0.5), xaxis=xa, yaxis=ya))

for i in pair_start:
    shp.append(dict(type="rect", xref=xa, yref=ya, x0=i - 0.46, x1=i + 1.46,
                    y0=A_YR[0], y1=A_YR[1], fillcolor="#D3D3D3", line=dict(width=0),
                    layer="below"))
for i, t in zip(sig_start, sig_text):
    ann.append(dict(text=t, x=i + 0.5, y=11.0, xref=xa, yref=ya, showarrow=False,
                    font=dict(size=9, color="black")))
panel_letter("A", 19, 10, 20)


# ---------- B, C, D ----------
def volcano(xpx, ypx, xr, xt, yr, hr, p, col, size, offs, title, letter, lpos):
    vx, vy = add_axes(
        xpx, ypx,
        dict(range=xr, tickvals=xt, ticktext=[f"{v:.1f}" for v in xt],
             tickfont=dict(size=4.5, color="#4D4D4D"), ticks="outside", ticklen=2,
             showgrid=True, gridcolor="#EBEBEB",
             minor=dict(tickvals=[v + 0.2 for v in xt[:-1]] + [xt[0] - 0.2],
                        showgrid=True, gridcolor="#F4F4F4"),
             showline=True, mirror=True, linecolor="#666", linewidth=0.7, zeroline=False,
             title=dict(text="log2(HR)", font=dict(size=4.8), standoff=2)),
        dict(range=yr, tickvals=[0, 1, 2, 3], tickfont=dict(size=4.5, color="#4D4D4D"),
             ticks="outside", ticklen=2, showgrid=True, gridcolor="#EBEBEB",
             minor=dict(tickvals=[0.5, 1.5, 2.5, 3.5], showgrid=True, gridcolor="#F4F4F4"),
             showline=True, mirror=True, linecolor="#666", linewidth=0.7, zeroline=False,
             title=dict(text="-log10(P\u2212Value)", font=dict(size=4.8), standoff=2)))
    shp.append(dict(type="line", xref=vx, yref=vy, x0=0, x1=0, y0=yr[0], y1=yr[1],
                    line=dict(color="#AAAAAA", width=0.6, dash="dash"), layer="below"))
    shp.append(dict(type="line", xref=vx, yref=vy, x0=xr[0], x1=xr[1],
                    y0=1.30103, y1=1.30103,
                    line=dict(color="#AAAAAA", width=0.6, dash="dash"), layer="below"))
    fig.add_trace(go.Scatter(x=hr, y=p, mode="markers", xaxis=vx, yaxis=vy,
                             marker=dict(color=col, size=size, line=dict(width=0))))
    for n, xv, yv, (dx, dy) in zip(vol_names, hr, p, offs):
        ann.append(dict(text=n, x=xv, y=yv, xref=vx, yref=vy, showarrow=True, ax=dx, ay=dy,
                        arrowhead=0, arrowwidth=0.5, arrowcolor="#555", standoff=0,
                        bgcolor="white", bordercolor="#808080", borderwidth=0.5,
                        borderpad=0.6, font=dict(size=4.6, color="#333")))
    ann.append(dict(text=title, x=fx((xpx[0] + xpx[1]) / 2), y=fy(287), xref="paper",
                    yref="paper", showarrow=False, font=dict(size=9, color="#222")))
    panel_letter(letter, *lpos)


volcano((16, 216), (295, 493), [-0.67, 0.84], [-0.4, 0.0, 0.4, 0.8], [-0.14, 3.77],
        os_hr, os_p, os_col, os_size, os_lab, "OS of CYP2C8", "B", (9, 280))
volcano((262, 462), (295, 492), [-0.675, 0.846], [-0.4, 0.0, 0.4, 0.8], [-0.17, 3.77],
        pfi_hr, pfi_p, pfi_col, pfi_size, pfi_lab, "PFI of CYP2C8", "C", (248, 283))
volcano((505, 704), (295, 492), [-0.836, 0.855], [-0.8, -0.4, 0.0, 0.4, 0.8],
        [-0.16, 3.79], dfi_hr, dfi_p, dfi_col, dfi_size, dfi_lab, "DFI of CYP2C8", "D",
        (489, 281))

# ---------- E, F, G ----------
KM_ROWS = [
    dict(title=529, top=533.8, bot=626.2, ttop=628, tbot=646),
    dict(title=679, top=682.7, bot=777.3, ttop=779.5, tbot=797),
    dict(title=831, top=835.5, bot=928.5, ttop=930.5, tbot=946),
]
AX_COMMON = dict(showline=True, linecolor="black", linewidth=0.6, showgrid=False,
                 zeroline=False, ticks="outside", ticklen=1.5, tickwidth=0.5)
KM_W = 110


def median_time(t, s):
    for ti, si in zip(t, s):
        if si <= 0.5:
            return ti
    return None


for k in range(15):
    r, c = divmod(k, 5)
    g = KM_ROWS[r]
    x0 = 18 + 144 * c
    ticks = [km_step[k] * j for j in range(len(risk_high[k]))]
    T = ticks[-1]
    xr = [-0.045 * T, 1.07 * T]
    kx, ky = add_axes(
        (x0, x0 + KM_W), (g["top"], g["bot"]),
        dict(range=xr, tickvals=ticks, showticklabels=False, **AX_COMMON),
        dict(range=[-0.05, 1.05], tickvals=[0, 0.25, 0.5, 0.75, 1],
             ticktext=["0.00", "0.25", "0.50", "0.75", "1.00"],
             tickfont=dict(size=3.2, color="#555"),
             title=dict(text="Survival probability", font=dict(size=3.6), standoff=1),
             **AX_COMMON))
    for t, lo, hi, ci in [(high_t[k], high_lo[k], high_hi[k], HIGH_CI),
                          (low_t[k], low_lo[k], low_hi[k], LOW_CI)]:
        for band in (lo, hi):
            fig.add_trace(go.Scatter(x=t, y=band, mode="lines", xaxis=kx, yaxis=ky,
                                     line=dict(shape="hv", color=ci, width=0.6, dash="dash")))
    fig.add_trace(go.Scatter(x=high_t[k], y=high_s[k], mode="lines", xaxis=kx, yaxis=ky,
                             line=dict(shape="hv", color=HIGH_COL, width=1.2)))
    fig.add_trace(go.Scatter(x=low_t[k], y=low_s[k], mode="lines", xaxis=kx, yaxis=ky,
                             line=dict(shape="hv", color=LOW_COL, width=1.2)))
    meds = [m for m in (median_time(high_t[k], high_s[k]), median_time(low_t[k], low_s[k]))
            if m is not None]
    if meds:
        shp.append(dict(type="line", xref=kx, yref=ky, x0=0, x1=max(meds), y0=0.5, y1=0.5,
                        line=dict(color="#333", width=0.5, dash="dash")))
        for m in meds:
            shp.append(dict(type="line", xref=kx, yref=ky, x0=m, x1=m, y0=0.5, y1=0,
                            line=dict(color="#333", width=0.5, dash="dash")))
    ann.append(dict(text=km_pvals[k], x=0, y=0.19, xref=kx, yref=ky, showarrow=False,
                    xanchor="left", font=dict(size=4.8, color="#222")))
    ann.append(dict(text=km_titles[k], x=fx(x0 + 57), y=fy(g["title"]), xref="paper",
                    yref="paper", showarrow=False, font=dict(size=5, color="#222")))
    # legend
    lx, ly = x0 + 90, g["top"] + 2
    ann.append(dict(text="Group", x=fx(lx), y=fy(ly), xref="paper", yref="paper",
                    showarrow=False, xanchor="left", font=dict(size=3.4, color="#333")))
    for j, (lab, colr) in enumerate([("High", HIGH_COL), ("Low", LOW_COL)]):
        yy = ly + 4.5 + 4.5 * j
        shp.append(dict(type="line", xref="paper", yref="paper", x0=fx(lx + 1),
                        x1=fx(lx + 5), y0=fy(yy), y1=fy(yy),
                        line=dict(color=colr, width=1)))
        ann.append(dict(text=lab, x=fx(lx + 6.5), y=fy(yy), xref="paper", yref="paper",
                        showarrow=False, xanchor="left", font=dict(size=3.2, color="#333")))
    # risk table
    tx, ty = add_axes(
        (x0, x0 + KM_W), (g["ttop"], g["tbot"]),
        dict(range=xr, tickvals=ticks, showticklabels=False, **AX_COMMON),
        dict(range=[0.4, 2.6], tickvals=[1, 2], ticktext=["Low", "High"],
             tickfont=dict(size=3, color="#555"),
             title=dict(text="Group", font=dict(size=3.6), standoff=1), **AX_COMMON))
    for v in ticks:
        ann.append(dict(text=str(v), x=v, xref=tx, y=fy(g["tbot"] + 3.6), yref="paper",
                        showarrow=False, yanchor="middle", font=dict(size=3.2, color="#555")))
    ann.append(dict(text="Time", x=fx(x0 + KM_W / 2), y=fy(g["tbot"] + 8), xref="paper",
                    yref="paper", showarrow=False, yanchor="middle",
                    font=dict(size=4, color="#333")))
    n = len(ticks)
    fig.add_trace(go.Scatter(x=ticks + ticks, y=[2] * n + [1] * n, mode="text",
                             text=[str(v) for v in risk_high[k] + risk_low[k]],
                             textfont=dict(size=4.6, color="#222"), xaxis=tx, yaxis=ty))

panel_letter("E", 6, 514)
panel_letter("F", 6, 660)
panel_letter("G", 7, 810)

fig.update_layout(
    width=W, height=H, margin=dict(l=0, r=0, t=0, b=0), showlegend=False,
    paper_bgcolor="white", plot_bgcolor="white", boxmode="overlay", boxgap=0.3,
    font=dict(family=FONT, color="#333"), annotations=ann, shapes=shp, **lay)

fig.write_html("out.html")
